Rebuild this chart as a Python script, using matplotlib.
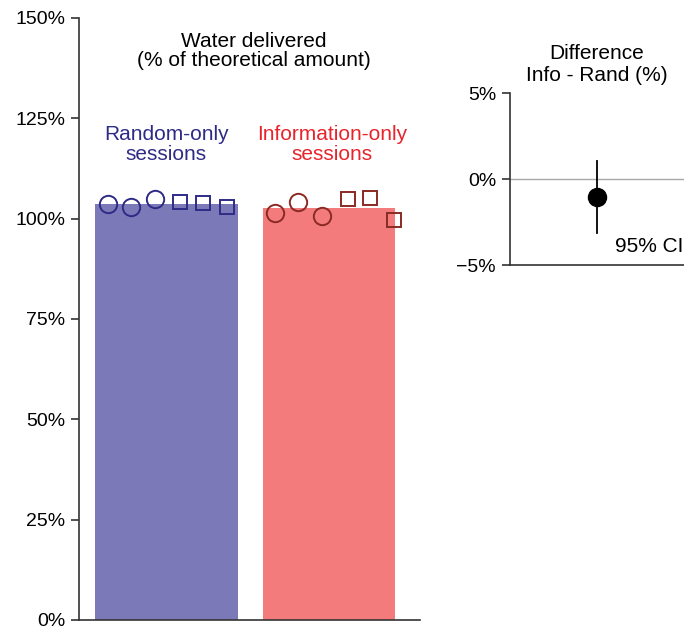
import numpy as np
import matplotlib
matplotlib.use('Agg')
import matplotlib.pyplot as plt
from matplotlib.ticker import FuncFormatter

plt.rcParams['font.family'] = ['Liberation Sans', 'DejaVu Sans']

# water delivered per session, % of theoretical amount
rand_circles = [103.7, 102.9, 104.9]
rand_squares = [104.2, 103.9, 102.9]
info_circles = [101.4, 104.2, 100.7]
info_squares = [104.9, 105.2, 99.7]
bar_means = [103.75, 102.7]

# difference Info - Rand with 95% CI
diff_mean = -1.05
diff_lo = -3.15
diff_hi = 1.05

blue_bar = '#7b79b8'
red_bar = '#f47b7b'
blue_dark = '#2e2b86'
red_dark = '#8a2a24'
spine_col = '#333333'
fs = 15

fig = plt.figure(figsize=(6.84, 6.3), dpi=100)
ax = fig.add_axes([79/684, 10/630, 341/684, 602/630])

ax.bar([0], [bar_means[0]], width=0.88, color=blue_bar, zorder=1)
ax.bar([1], [bar_means[1]], width=0.81, color=red_bar, zorder=1)

offs = np.array([-0.36, -0.218, -0.071])
ax.plot(offs, rand_circles, 'o', ms=12.5, mfc='none', mec=blue_dark, mew=1.4, zorder=3)
ax.plot(offs + 0.445, rand_squares, 's', ms=10.5, mfc='none', mec=blue_dark, mew=1.4, zorder=3)
offs2 = np.array([-0.33, -0.19, -0.043])
ax.plot(1 + offs2, info_circles, 'o', ms=12.5, mfc='none', mec=red_dark, mew=1.4, zorder=3)
ax.plot(1 + offs2 + 0.445, info_squares, 's', ms=10.5, mfc='none', mec=red_dark, mew=1.4, zorder=3)

ax.set_xlim(-0.538, 1.56)
ax.set_ylim(0, 150)
ax.set_yticks([0, 25, 50, 75, 100, 125, 150])
ax.yaxis.set_major_formatter(FuncFormatter(lambda v, p: '%d%%' % v))
ax.set_xticks([])
for s in ['top', 'right']:
    ax.spines[s].set_visible(False)
for s in ['left', 'bottom']:
    ax.spines[s].set_color(spine_col)
    ax.spines[s].set_linewidth(1.2)
ax.tick_params(axis='y', direction='out', length=6, width=1.2, color=spine_col,
               labelsize=14, pad=4)

ax.text(0.54, 141.8, 'Water delivered\n(% of theoretical amount)', ha='center', va='center',
        fontsize=fs, linespacing=1.05)
ax.text(0, 118.4, 'Random-only\nsessions', ha='center', va='center', fontsize=fs,
        color=blue_dark, linespacing=1.05)
ax.text(1.02, 118.4, 'Information-only\nsessions', ha='center', va='center', fontsize=fs,
        color='#e8232b', linespacing=1.05)

# difference panel
ax2 = fig.add_axes([510/684, 365/630, 174/684, 172/630])
ax2.axhline(0, color='#a8a8a8', lw=1.0, zorder=1)
ax2.plot([0, 0], [diff_lo, diff_hi], color='black', lw=1.3, zorder=2)
ax2.plot([0], [diff_mean], 'o', ms=13, color='black', zorder=3)
ax2.set_xlim(-0.5, 0.5)
ax2.set_ylim(-5, 5)
ax2.set_yticks([-5, 0, 5])
ax2.set_yticklabels(['\u22125%', '0%', '5%'])
ax2.set_xticks([])
for s in ['top', 'right']:
    ax2.spines[s].set_visible(False)
for s in ['left', 'bottom']:
    ax2.spines[s].set_color(spine_col)
    ax2.spines[s].set_linewidth(1.2)
ax2.tick_params(axis='y', direction='out', length=6, width=1.2, color=spine_col,
                labelsize=14, pad=4)
ax2.text(0.495, -3.9, '95% CI', ha='right', va='center', fontsize=fs)
ax2.text(0.0, 6.66, 'Difference\nInfo - Rand (%)', ha='center', va='center',
         fontsize=fs, linespacing=1.2)

fig.savefig('out.png', dpi=100)
